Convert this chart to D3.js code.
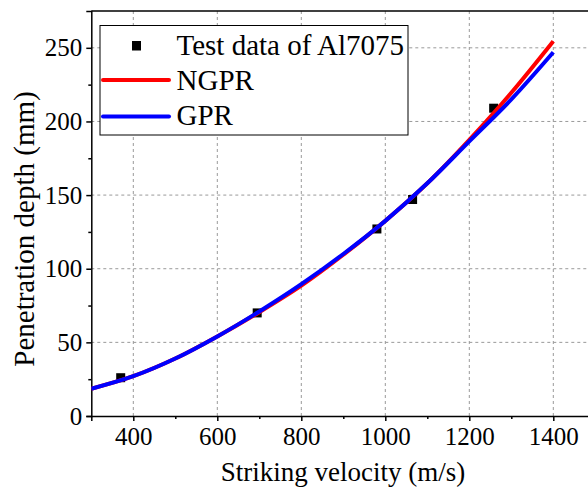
<!DOCTYPE html>
<html><head><meta charset="utf-8">
<script src="https://cdn.jsdelivr.net/npm/d3@7"></script>
<style>body{margin:0;background:#fff}svg{display:block}svg text{font-family:"Liberation Serif","DejaVu Serif",serif !important}</style>
</head><body>
<script>
const testV = [370, 695, 980, 1065, 1258];
const testD = [26, 70, 127, 147, 209];
const curveV = [300, 400, 500, 600, 700, 800, 900, 1000, 1100, 1200, 1300, 1400];
const ngprD = [18.5, 27, 39, 54, 70.5, 88.5, 109.5, 132.5, 158, 187.5, 219.5, 254.5];
const gprD  = [18.5, 27, 39, 54, 71, 89.5, 110, 132.5, 158, 186.5, 215, 247];
const xTicks = [400, 600, 800, 1000, 1200, 1400];
const yTicks = [0, 50, 100, 150, 200, 250];
const legendLabels = ["Test data of Al7075", "NGPR", "GPR"];

const W = 588, H = 488;
const FONT = '"Liberation Serif", "DejaVu Serif", serif';
const svg = d3.select("body").append("svg").attr("width", W).attr("height", H);
const x = d3.scaleLinear().domain([300, 1500]).range([91.3, 91.3 + 0.42 * 1200]);
const y = d3.scaleLinear().domain([0, 275]).range([416, 11]);

// grid
const g = svg.append("g");
g.selectAll(".gx").data(xTicks).join("line")
  .attr("x1", d => x(d)).attr("x2", d => x(d)).attr("y1", 416).attr("y2", 11)
  .attr("stroke", "#999").attr("stroke-width", 1).attr("stroke-dasharray", "3,3");
g.selectAll(".gy").data(yTicks.filter(d => d > 0)).join("line")
  .attr("x1", 91.3).attr("x2", W).attr("y1", d => y(d)).attr("y2", d => y(d))
  .attr("stroke", "#999").attr("stroke-width", 1).attr("stroke-dasharray", "3,3");

// frame top
svg.append("line").attr("x1", 91.3).attr("x2", W).attr("y1", 11).attr("y2", 11)
  .attr("stroke", "#000").attr("stroke-width", 1.5);

// axes
const xAxis = d3.axisBottom(x).tickValues(xTicks).tickSize(5).tickPadding(6).tickFormat(d3.format("d"));
const xMinor = d3.axisBottom(x).tickValues([500, 700, 900, 1100, 1300]).tickSize(3).tickFormat("");
const yAxis = d3.axisLeft(y).tickValues(yTicks).tickSize(5).tickPadding(4);
const yMinor = d3.axisLeft(y).tickValues([25, 75, 125, 175, 225]).tickSize(3).tickFormat("");

function style(sel) {
  sel.attr("font-family", FONT).attr("font-size", 25);
  sel.select(".domain").attr("stroke-width", 1.5);
  sel.selectAll(".tick line").attr("stroke-width", 1.5);
  sel.selectAll("text").attr("font-size", 25).attr("fill", "#000").attr("font-family", FONT);
}
svg.append("g").attr("transform", "translate(0,416)").call(xAxis).call(style);
svg.append("g").attr("transform", "translate(0,416)").call(xMinor).call(s => { s.select(".domain").remove(); s.selectAll("line").attr("stroke-width", 1.5); });
svg.append("g").attr("transform", "translate(91.3,0)").call(yAxis).call(style);
svg.append("g").attr("transform", "translate(91.3,0)").call(yMinor).call(s => { s.select(".domain").remove(); s.selectAll("line").attr("stroke-width", 1.5); });

// axis titles
svg.append("text").attr("x", 343).attr("y", 480.5).attr("text-anchor", "middle")
  .attr("font-family", FONT).attr("font-size", 27).text("Striking velocity (m/s)");
svg.append("text").attr("transform", "translate(34,229) rotate(-90)").attr("text-anchor", "middle")
  .attr("font-family", FONT).attr("font-size", 29).text("Penetration depth (mm)");

// markers
svg.append("clipPath").attr("id", "c").append("rect")
  .attr("x", 91.3).attr("y", 11).attr("width", W).attr("height", 405);
svg.append("g").selectAll("rect").data(testV).join("rect")
  .attr("x", (d) => x(d) - 4.5).attr("y", (d, i) => y(testD[i]) - 4.5)
  .attr("width", 9).attr("height", 9).attr("fill", "#000");

const line = d3.line().x(d => x(d[0])).y(d => y(d[1])).curve(d3.curveMonotoneX);
svg.append("path").datum(curveV.map((v, i) => [v, ngprD[i]]))
  .attr("d", line).attr("fill", "none").attr("stroke", "#ff0000").attr("stroke-width", 4)
  .attr("clip-path", "url(#c)");
svg.append("path").datum(curveV.map((v, i) => [v, gprD[i]]))
  .attr("d", line).attr("fill", "none").attr("stroke", "#0000ff").attr("stroke-width", 4)
  .attr("clip-path", "url(#c)");

// legend
const lg = svg.append("g");
lg.append("rect").attr("x", 100).attr("y", 25.5).attr("width", 308).attr("height", 109.5)
  .attr("fill", "#fff").attr("stroke", "#000").attr("stroke-width", 1);
lg.append("rect").attr("x", 132).attr("y", 41).attr("width", 9).attr("height", 9.5).attr("fill", "#000");
lg.append("line").attr("x1", 103).attr("x2", 169).attr("y1", 80).attr("y2", 80)
  .attr("stroke", "#ff0000").attr("stroke-width", 4).attr("stroke-linecap", "round");
lg.append("line").attr("x1", 103).attr("x2", 169).attr("y1", 116.5).attr("y2", 116.5)
  .attr("stroke", "#0000ff").attr("stroke-width", 4).attr("stroke-linecap", "round");
lg.selectAll("text").data(legendLabels).join("text")
  .attr("x", 176.5).attr("y", (d, i) => [55, 90, 125][i]).attr("font-family", FONT).attr("font-size", 29).text(d => d);
</script>
</body></html>
